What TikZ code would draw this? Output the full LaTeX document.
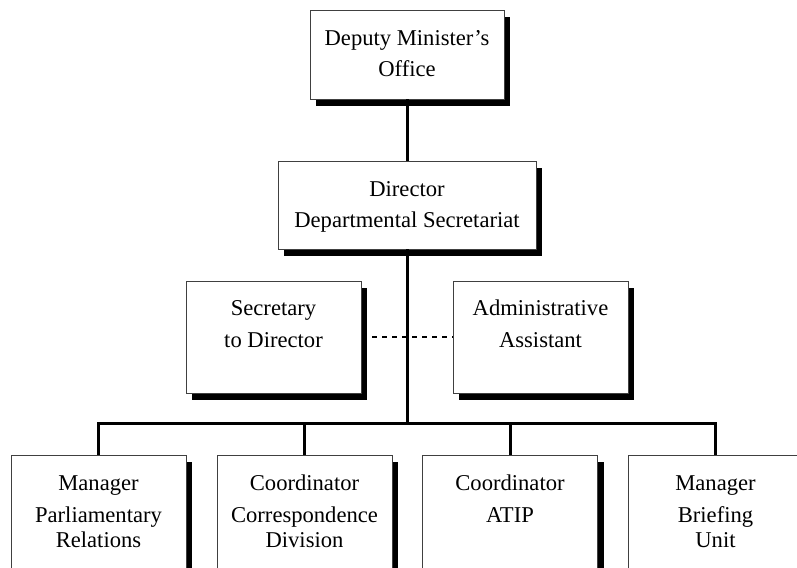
\documentclass[tikz,border=0pt]{standalone}
\usepackage{fontspec}
\setmainfont{Liberation Serif}
\usetikzlibrary{shadows}
\begin{document}
\begin{tikzpicture}[x=1pt,y=-1pt,
  box/.style={draw=black!75, line width=0.9pt, fill=white, rectangle, inner sep=0pt,
    minimum width=175pt, minimum height=112pt,
    drop shadow={shadow xshift=6pt, shadow yshift=-7pt, fill=black, opacity=1}},
  txt/.style={anchor=base, font=\fontsize{22.6}{26}\selectfont, inner sep=0pt},
  conn/.style={line width=3pt, black},
  dotconn/.style={line width=2pt, black, dash pattern=on 5pt off 5pt}]
\useasboundingbox (0,0) rectangle (797,567);
\clip (0,0) rectangle (797,567);
\fill[white] (0,0) rectangle (797,567);

% boxes
\node[box, minimum width=194pt, minimum height=89pt] (dm) at (407,54.5) {};
\node[box, minimum width=258pt, minimum height=88pt] (dir) at (407,205) {};
\node[box] (sec) at (273.5,337) {};
\node[box] (adm) at (540.5,337) {};
\node[box, minimum height=160pt] (b1) at (98.5,535) {};
\node[box, minimum height=160pt] (b2) at (304.5,535) {};
\node[box, minimum height=160pt] (b3) at (510,535) {};
\node[box, minimum height=160pt] (b4) at (715.5,535) {};

% connectors
\coordinate (bus) at (407,423);
\draw[conn] (dm.south) -- (dir.north);
\draw[conn] (dir.south) -- (bus);
\draw[conn] (b1.north) |- (bus) -| (b4.north);
\draw[conn] (b2.north) -- (b2.north |- bus);
\draw[conn] (b3.north) -- (b3.north |- bus);
\draw[dotconn] ([xshift=11pt]sec.east) -- (adm.west);

% texts
\node[txt] (dm1) at (407,45.5) {Deputy Minister’s};
\node[txt] (dm2) at (407,77) {Office};
\node[txt] (dir1) at (407,196) {Director};
\node[txt] (dir2) at (407,227) {Departmental Secretariat};
\node[txt] (sec1) at (273.5,315) {Secretary};
\node[txt] (sec2) at (273.5,347) {to Director};
\node[txt] (adm1) at (540.5,315) {Administrative};
\node[txt] (adm2) at (540.5,347) {Assistant};
\node[txt] (b1a) at (98.5,490) {Manager};
\node[txt] (b1b) at (98.5,522) {Parliamentary};
\node[txt] (b1c) at (98.5,547) {Relations};
\node[txt] (b2a) at (304.5,490) {Coordinator};
\node[txt] (b2b) at (304.5,522) {Correspondence};
\node[txt] (b2c) at (304.5,547) {Division};
\node[txt] (b3a) at (510,490) {Coordinator};
\node[txt] (b3b) at (510,522) {ATIP};
\node[txt] (b4a) at (715.5,490) {Manager};
\node[txt] (b4b) at (715.5,522) {Briefing};
\node[txt] (b4c) at (715.5,547) {Unit};
\end{tikzpicture}
\end{document}
